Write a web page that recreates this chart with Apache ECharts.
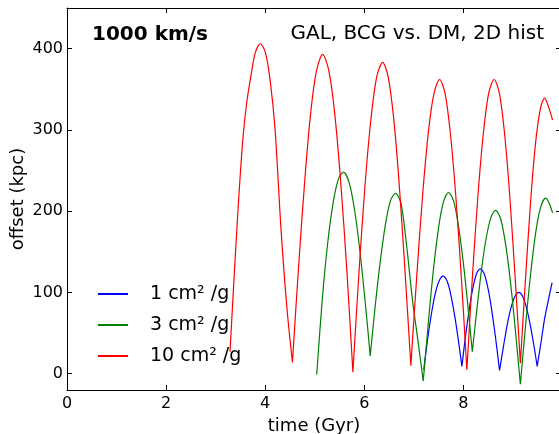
<!DOCTYPE html>
<html>
<head>
<meta charset="utf-8">
<script src="https://cdn.jsdelivr.net/npm/echarts@6/dist/echarts.min.js"></script>
<style>html,body{margin:0;padding:0;background:#fff}#c{width:559px;height:434px}</style>
</head>
<body>
<div id="c"></div>
<script>
// ---- data ----
var xTicks = [0, 2, 4, 6, 8];
var yTicks = [0, 100, 200, 300, 400];
var seriesNames = ['1 cm² /g', '3 cm² /g', '10 cm² /g'];

var t1 = [7.20,7.27,7.35,7.43,7.51,7.59,7.67,7.74,7.82,7.89,7.97,
          8.04,8.12,8.19,8.27,8.34,8.42,8.50,8.57,8.65,8.73,
          8.81,8.89,8.96,9.04,9.12,9.19,9.27,9.34,9.42,9.49,
          9.57,9.64,9.72,9.79];
var off1 = [5,39,72,98,114,120,114,99,73,45,9,
            45,80,105,124,129,123,104,79,44,4,
            34,62,81,95,100,96,82,63,36,9,
            40,68,92,112];

var t3 = [5.04,5.15,5.26,5.37,5.48,5.58,5.69,5.80,5.91,6.02,6.12,
          6.22,6.32,6.43,6.53,6.63,6.74,6.85,6.97,7.08,7.19,
          7.29,7.39,7.50,7.60,7.70,7.80,7.89,7.99,8.08,8.18,
          8.27,8.37,8.46,8.56,8.65,8.75,8.85,8.95,9.05,9.15,
          9.25,9.35,9.46,9.56,9.66,9.73,9.80];
var off3 = [-1,90,160,210,240,248,236,203,152,87,22,
            83,137,185,213,222,210,160,92,42,-9,
            61,125,180,212,223,213,186,141,90,27,
            78,130,167,193,201,191,160,113,53,-13,
            56,119,174,205,216,210,198];

var t10 = [3.29,3.36,3.43,3.50,3.56,3.63,3.70,3.80,3.90,4.00,4.10,4.20,4.32,4.44,4.55,
           4.67,4.79,4.91,5.03,5.16,5.29,5.41,5.53,5.65,5.77,
           5.89,6.01,6.13,6.25,6.37,6.48,6.59,6.70,6.82,6.94,
           7.06,7.18,7.30,7.41,7.52,7.63,7.74,7.85,7.96,8.07,
           8.18,8.29,8.40,8.51,8.62,8.73,8.84,8.94,9.05,9.15,
           9.25,9.35,9.45,9.55,9.64,9.72,9.80];
var off10 = [27,105,180,248,296,335,362,395,406,396,361,300,177,80,14,
             128,231,316,371,393,371,316,231,125,2,
             122,228,311,365,383,366,316,237,128,10,
             121,222,301,346,362,345,294,216,117,5,
             117,216,294,345,362,344,290,215,113,13,
             113,206,280,325,339,328,312];

// pair up the values; break the (smoothed) line at each local minimum so the
// bounces stay sharp, repeating the minimum point on both sides of the break
function arcs(a, b) {
  var out = [];
  for (var i = 0; i < a.length; i++) {
    out.push([a[i], b[i]]);
    if (i > 0 && i < a.length - 1 && b[i] < b[i - 1] && b[i] < b[i + 1]) {
      out.push(['-', '-']);
      out.push([a[i], b[i]]);
    }
  }
  return out;
}

var FONT = 'DejaVu Sans';
var XMIN = 0, XMAX = 9.97, YMIN = -20, YMAX = 450;

function xAx(pos, main) {
  return {
    type: 'value', min: XMIN, max: XMAX, position: pos,
    axisLine: { show: true, onZero: false, lineStyle: { color: '#000', width: 1 } },
    axisTick: { show: true, inside: true, length: 5, customValues: xTicks, lineStyle: { color: '#000' } },
    axisLabel: { show: main, customValues: xTicks, color: '#000', fontSize: 16, fontFamily: FONT, margin: 6 },
    splitLine: { show: false },
    name: main ? 'time (Gyr)' : '', nameLocation: 'middle', nameGap: 22,
    nameTextStyle: { color: '#000', fontSize: 18, fontFamily: FONT }
  };
}
function yAx(pos, main) {
  return {
    type: 'value', min: YMIN, max: YMAX, position: pos,
    axisLine: { show: true, onZero: false, lineStyle: { color: '#000', width: 1 } },
    axisTick: { show: true, inside: true, length: 5, customValues: yTicks, lineStyle: { color: '#000' } },
    axisLabel: { show: main, customValues: yTicks, color: '#000', fontSize: 16, fontFamily: FONT, margin: 4 },
    splitLine: { show: false },
    name: main ? 'offset (kpc)' : '', nameLocation: 'middle', nameGap: 40, nameRotate: 90,
    nameMoveOverlap: false,
    nameTextStyle: { color: '#000', fontSize: 18, fontFamily: FONT }
  };
}

function lineSeries(name, data, color) {
  return {
    name: name, type: 'line', data: data, showSymbol: false, symbol: 'none',
    smooth: 0.3, connectNulls: false,
    lineStyle: { color: color, width: 1.2 }, itemStyle: { color: color }
  };
}

var chart = echarts.init(document.getElementById('c'), null, { renderer: 'canvas' });
chart.setOption({
  animation: false,
  backgroundColor: '#fff',
  textStyle: { fontFamily: FONT },
  title: [
    { text: '1000 km/s', left: 92, top: 25, padding: 0,
      textStyle: { fontSize: 20, fontWeight: 'bold', color: '#000', fontFamily: FONT } },
    { text: 'GAL, BCG vs. DM, 2D hist', right: 15, top: 24, padding: 0,
      textStyle: { fontSize: 20, fontWeight: 'normal', color: '#000', fontFamily: FONT } }
  ],
  grid: { left: 67, top: 8, right: -2, bottom: 44, containLabel: false, outerBoundsMode: 'none' },
  xAxis: [xAx('bottom', true), xAx('top', false)],
  yAxis: [yAx('left', true), yAx('right', false)],
  legend: {
    orient: 'vertical', left: 98, top: 284, padding: 0,
    icon: 'rect', itemWidth: 30, itemHeight: 2, itemGap: 11,
    textStyle: { fontSize: 19, color: '#000', fontFamily: FONT, lineHeight: 20, padding: [0, 0, 0, 17] },
    data: seriesNames
  },
  series: [
    lineSeries(seriesNames[0], arcs(t1, off1), '#0000ff'),
    lineSeries(seriesNames[1], arcs(t3, off3), '#008000'),
    lineSeries(seriesNames[2], arcs(t10, off10), '#ff0000')
  ]
});
</script>
</body>
</html>
